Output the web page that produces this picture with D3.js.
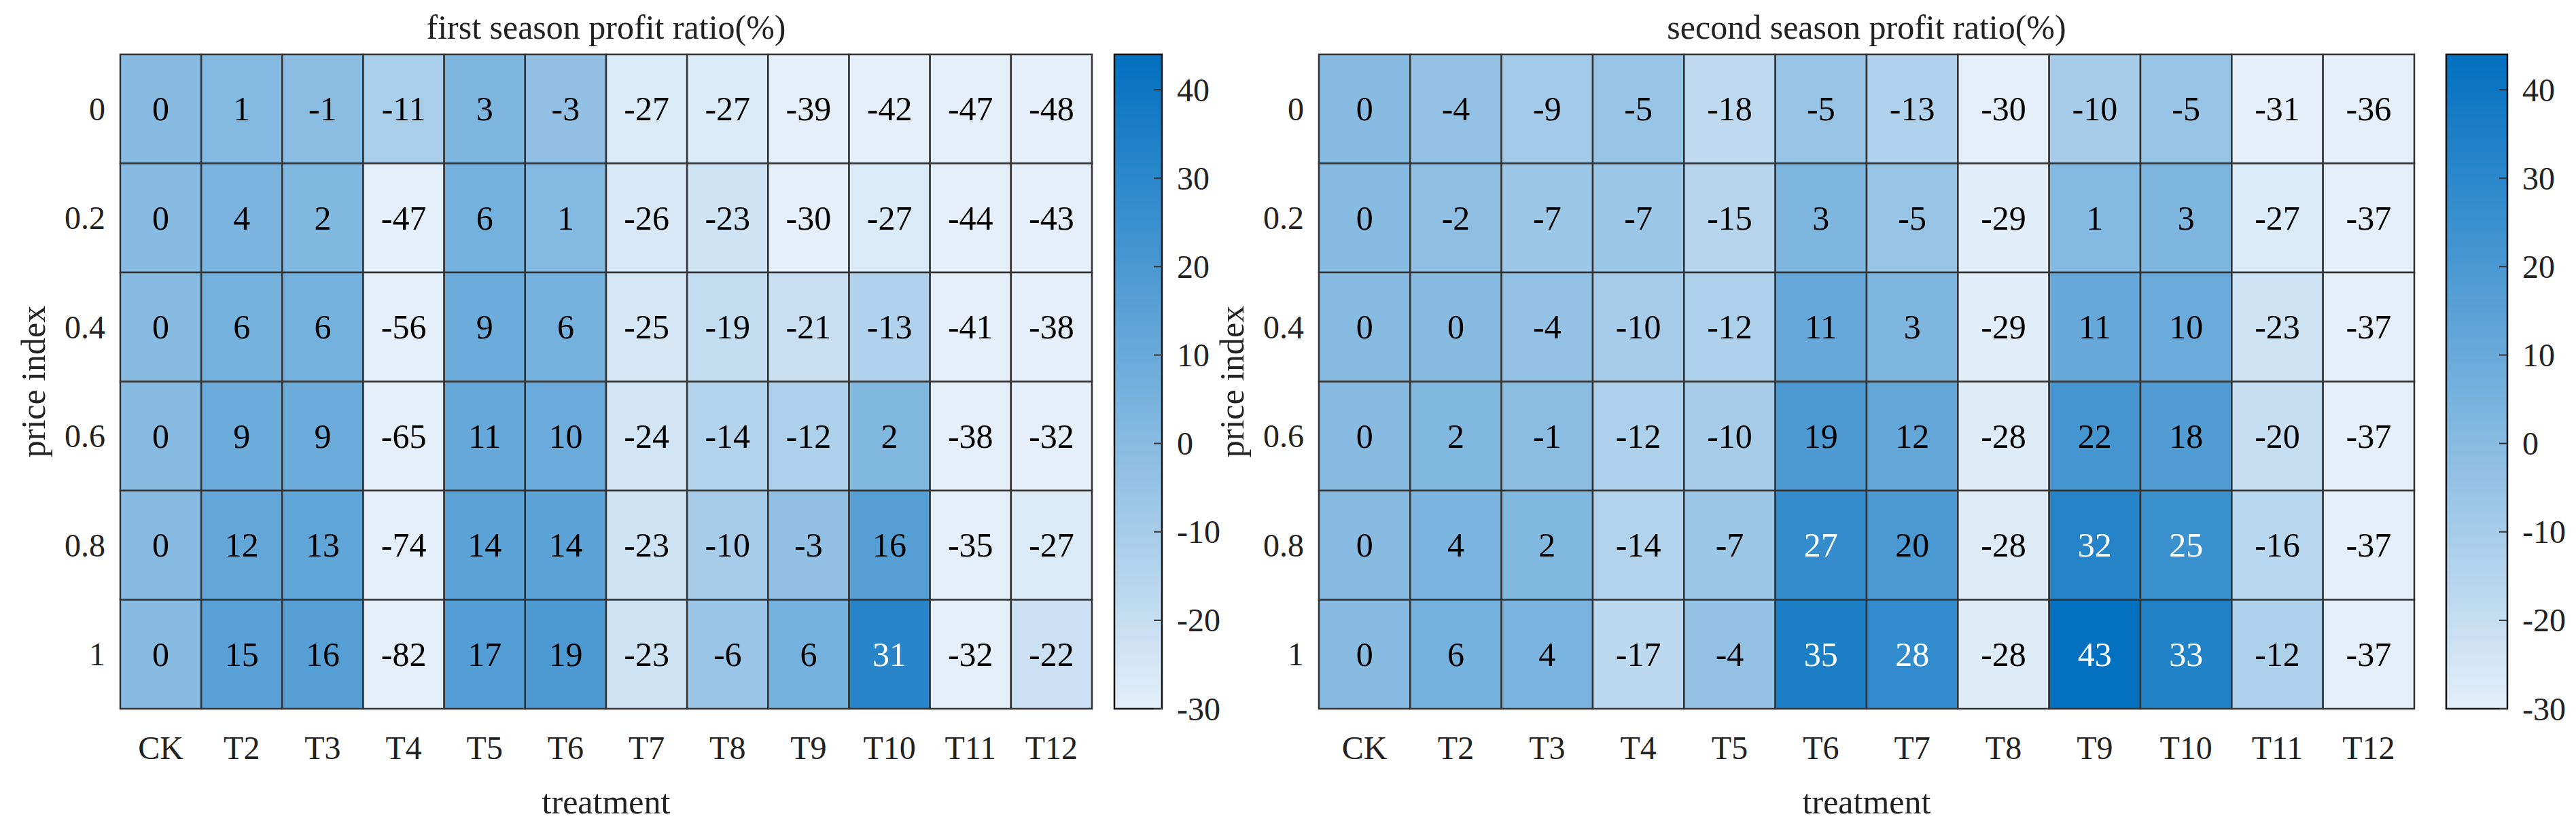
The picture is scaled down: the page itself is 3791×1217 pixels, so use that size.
<!DOCTYPE html>
<html><head><meta charset="utf-8">
<script src="https://cdn.jsdelivr.net/npm/d3@7"></script>
<style>body{margin:0;background:#fff}text{font-family:"Liberation Serif","Times New Roman",serif;fill:#222}</style>
</head><body>
<svg id="c" width="3791" height="1217"></svg>
<script>
var treatments = ['CK','T2','T3','T4','T5','T6','T7','T8','T9','T10','T11','T12'];
var priceIdx = ['0','0.2','0.4','0.6','0.8','1'];
var cbTicks = [-30,-20,-10,0,10,20,30,40];
var season1 = [
  [0,1,-1,-11,3,-3,-27,-27,-39,-42,-47,-48],
  [0,4,2,-47,6,1,-26,-23,-30,-27,-44,-43],
  [0,6,6,-56,9,6,-25,-19,-21,-13,-41,-38],
  [0,9,9,-65,11,10,-24,-14,-12,2,-38,-32],
  [0,12,13,-74,14,14,-23,-10,-3,16,-35,-27],
  [0,15,16,-82,17,19,-23,-6,6,31,-32,-22]
];
var season2 = [
  [0,-4,-9,-5,-18,-5,-13,-30,-10,-5,-31,-36],
  [0,-2,-7,-7,-15,3,-5,-29,1,3,-27,-37],
  [0,0,-4,-10,-12,11,3,-29,11,10,-23,-37],
  [0,2,-1,-12,-10,19,12,-28,22,18,-20,-37],
  [0,4,2,-14,-7,27,20,-28,32,25,-16,-37],
  [0,6,4,-17,-4,35,28,-28,43,33,-12,-37]
];
var svg = d3.select('#c');
var color = d3.scaleLinear().domain([-30,44]).range(['#e4eff9','#006fbf']).clamp(true);

function panel(data, title, x0, x1, cbx, cbw){
  var y0 = 80, y1 = 1043;
  var x = d3.scaleBand().domain(treatments).range([x0,x1]);
  var y = d3.scaleBand().domain(priceIdx).range([y0,y1]);
  var g = svg.append('g');
  var cells = [];
  data.forEach(function(row,i){ row.forEach(function(v,j){ cells.push({r:priceIdx[i],c:treatments[j],v:v}); }); });
  g.selectAll('rect.cell').data(cells).join('rect')
    .attr('x',d=>x(d.c)).attr('y',d=>y(d.r))
    .attr('width',x.bandwidth()).attr('height',y.bandwidth())
    .attr('fill',d=>color(d.v)).attr('stroke','#333').attr('stroke-width',2.5);
  g.selectAll('text.v').data(cells).join('text')
    .attr('x',d=>x(d.c)+x.bandwidth()/2).attr('y',d=>y(d.r)+y.bandwidth()/2)
    .attr('text-anchor','middle').attr('dominant-baseline','central')
    .attr('font-size',50).style('fill',d=>d.v>=24?'#fff':'#000').text(d=>d.v);
  g.selectAll('text.xt').data(treatments).join('text')
    .attr('x',d=>x(d)+x.bandwidth()/2).attr('y',1100).attr('text-anchor','middle')
    .attr('dominant-baseline','central').attr('font-size',48).text(d=>d);
  g.selectAll('text.yt').data(priceIdx).join('text')
    .attr('x',x0-22).attr('y',d=>y(d)+y.bandwidth()/2).attr('text-anchor','end')
    .attr('dominant-baseline','central').attr('font-size',48).text(d=>d);
  g.append('text').attr('x',(x0+x1)/2).attr('y',1180).attr('text-anchor','middle')
    .attr('dominant-baseline','central').attr('font-size',50).text('treatment');
  g.append('text').attr('x',(x0+x1)/2).attr('y',40).attr('text-anchor','middle')
    .attr('dominant-baseline','central').attr('font-size',50).text(title);
  g.append('text').attr('transform','translate('+(x0-128)+','+((y0+y1)/2)+') rotate(-90)')
    .attr('text-anchor','middle').attr('dominant-baseline','central').attr('font-size',50).text('price index');
  // colorbar
  var cy = d3.scaleLinear().domain([-30,44]).range([y1,y0]);
  var id = 'grad'+cbx;
  var grad = svg.append('defs').append('linearGradient').attr('id',id)
    .attr('x1',0).attr('y1',1).attr('x2',0).attr('y2',0);
  grad.append('stop').attr('offset',0).attr('stop-color',color(-30));
  grad.append('stop').attr('offset',1).attr('stop-color',color(44));
  g.append('rect').attr('x',cbx).attr('y',y0).attr('width',cbw).attr('height',y1-y0)
    .attr('fill','url(#'+id+')').attr('stroke','#111').attr('stroke-width',2.5);
  g.selectAll('line.cbt').data(cbTicks).join('line')
    .attr('x1',cbx+cbw-12).attr('x2',cbx+cbw).attr('y1',d=>cy(d)).attr('y2',d=>cy(d))
    .attr('stroke','#333').attr('stroke-width',2);
  g.selectAll('text.cbl').data(cbTicks).join('text')
    .attr('x',cbx+cbw+22).attr('y',d=>cy(d)).attr('dominant-baseline','central')
    .attr('font-size',48).text(d=>String(d));
}
panel(season1,'first season profit ratio(%)',177,1607,1640,70);
panel(season2,'second season profit ratio(%)',1941,3553,3600,90);
</script>
</body></html>
